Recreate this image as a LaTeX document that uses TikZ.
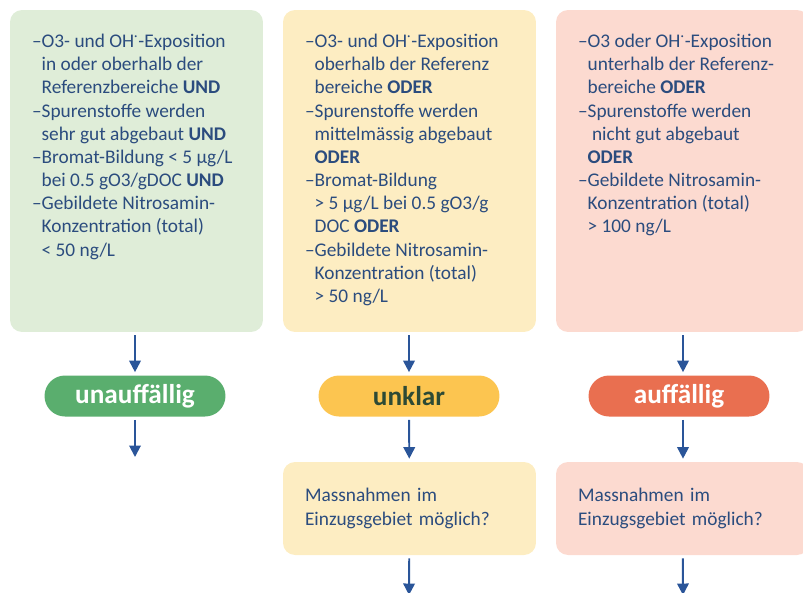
\documentclass[tikz,border=0pt]{standalone}
\usepackage{fontspec}
\setmainfont{Carlito}
\usepackage{tikz}
\usetikzlibrary{arrows.meta,positioning}
\definecolor{textblue}{HTML}{2B4C7E}
\definecolor{arrowblue}{HTML}{2A5599}
\definecolor{greenlight}{HTML}{DFEDD8}
\definecolor{yellowlight}{HTML}{FDEDC2}
\definecolor{redlight}{HTML}{FCDAD0}
\definecolor{greendark}{HTML}{5AAE6E}
\definecolor{yellowdark}{HTML}{FCC550}
\definecolor{reddark}{HTML}{E96F50}
\definecolor{darkolive}{HTML}{2D4A35}
\newcommand{\strich}{–}
\newcommand{\einzug}{\phantom{–}}

\begin{document}
\begin{tikzpicture}[x=0.02cm, y=-0.02cm]
        % Stile
        \tikzset{
            critbox/.style={rectangle, rounded corners=0.24cm, minimum width=5.06cm,
                            minimum height=6.44cm, inner sep=0pt},
            frage/.style={rectangle, rounded corners=0.24cm, minimum width=5.06cm,
                          minimum height=1.86cm, text=textblue, align=left,
                          text width=4.18cm, font=\fontsize{11}{13.2}\selectfont},
            crittext/.style={anchor=north west, inner sep=0pt, align=left, text=textblue,
                             font=\fontsize{11}{13.2}\selectfont},
            pill/.style={rectangle, rounded corners=0.41cm, minimum width=3.62cm,
                         minimum height=0.82cm, font=\fontsize{15.5}{18}\selectfont\bfseries},
            arrow/.style={-{Triangle[width=0.23cm, length=0.23cm]}, line width=1.1pt,
                          draw=arrowblue, shorten <=0.06cm, shorten >=0.06cm}
        }
        \clip (0,0) rectangle (803,592);

        % Kriterien
        \node[critbox, fill=greenlight] (critgreen) at (136.5,171) {};
        \node[critbox, fill=yellowlight] (crityellow) at (409.5,171) {};
        \node[critbox, fill=redlight] (critred) at (682.5,171) {};

        \node[crittext, below right=0.48cm and 0.44cm of critgreen.north west] (txtgreen)
            {\strich O3- und OH\textsuperscript{·}-Exposition\\
             \einzug in oder oberhalb der\\
             \einzug Referenzbereiche \textbf{UND}\\
             \strich Spurenstoffe werden\\
             \einzug sehr gut abgebaut \textbf{UND}\\
             \strich Bromat-Bildung < 5 µg/L\\
             \einzug bei 0.5 gO3/gDOC \textbf{UND}\\
             \strich Gebildete Nitrosamin-\\
             \einzug Konzentration (total)\\
             \einzug < 50 ng/L};
        \node[crittext, below right=0.48cm and 0.44cm of crityellow.north west] (txtyellow)
            {\strich O3- und OH\textsuperscript{·}-Exposition\\
             \einzug oberhalb der Referenz\\
             \einzug bereiche \textbf{ODER}\\
             \strich Spurenstoffe werden\\
             \einzug mittelmässig abgebaut\\
             \einzug \textbf{ODER}\\
             \strich Bromat-Bildung\\
             \einzug > 5 µg/L bei 0.5 gO3/g\\
             \einzug DOC \textbf{ODER}\\
             \strich Gebildete Nitrosamin-\\
             \einzug Konzentration (total)\\
             \einzug > 50 ng/L};
        \node[crittext, below right=0.48cm and 0.44cm of critred.north west] (txtred)
            {\strich O3 oder OH\textsuperscript{·}-Exposition\\
             \einzug unterhalb der Referenz-\\
             \einzug bereiche \textbf{ODER}\\
             \strich Spurenstoffe werden\\
             \einzug\ nicht gut abgebaut\\
             \einzug \textbf{ODER}\\
             \strich Gebildete Nitrosamin-\\
             \einzug Konzentration (total)\\
             \einzug > 100 ng/L};

        % Bewertung
        \node[pill, fill=greendark, text=white] (pillgreen) at (135,396) {unauffällig};
        \node[pill, fill=yellowdark, text=darkolive] (pillyellow) at (409,396) {unklar};
        \node[pill, fill=reddark, text=white] (pillred) at (679,396) {auffällig};

        % Massnahmen
        \node[frage, fill=yellowlight] (frageyellow) at (409.5,508.5)
            {Massnahmen im\\Einzugsgebiet möglich?};
        \node[frage, fill=redlight] (fragered) at (682.5,508.5)
            {Massnahmen im\\Einzugsgebiet möglich?};

        \coordinate (endgreen) at (135,460);
        \coordinate (endyellow) at (409,598);
        \coordinate (endred) at (683,598);

        % Pfeile
        \draw[arrow] (critgreen.south -| pillgreen) -- (pillgreen);
        \draw[arrow] (crityellow.south -| pillyellow) -- (pillyellow);
        \draw[arrow] (critred.south -| endred) -- (pillred.north -| endred);
        \draw[arrow] (pillgreen) -- (endgreen);
        \draw[arrow] (pillyellow) -- (frageyellow);
        \draw[arrow] (pillred.south -| endred) -- (fragered.north -| endred);
        \draw[arrow] (frageyellow) -- (endyellow);
        \draw[arrow] (fragered) -- (endred);
    \end{tikzpicture}
\end{document}
